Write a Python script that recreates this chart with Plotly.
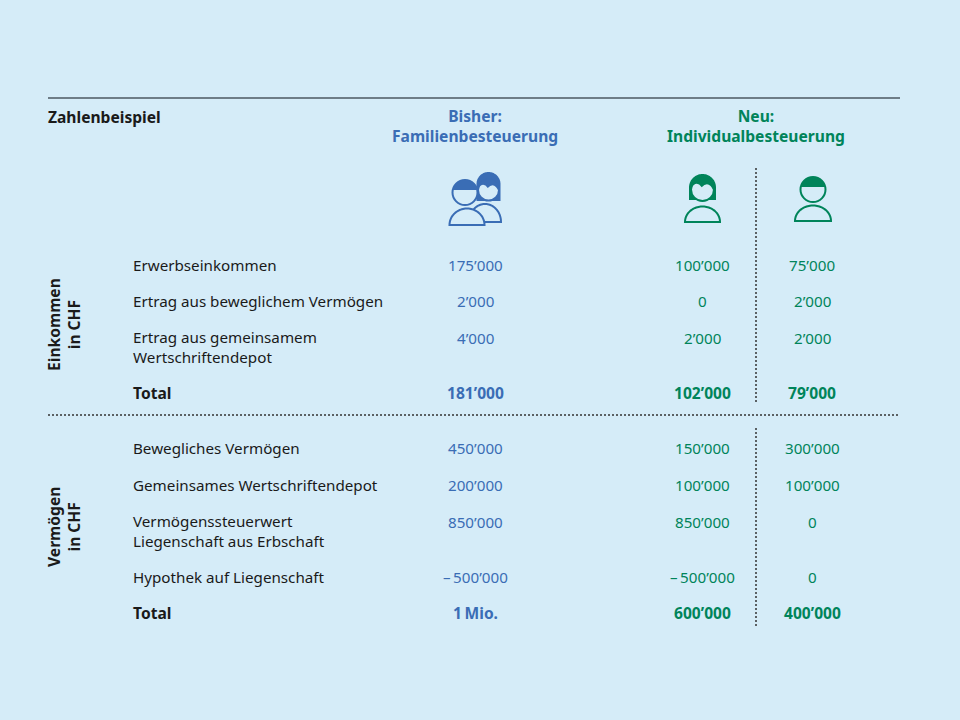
import numpy as np
import plotly.graph_objects as go

# ---- data ----
income_labels = ["Erwerbseinkommen", "Ertrag aus beweglichem Vermögen",
                 "Ertrag aus gemeinsamem<br>Wertschriftendepot", "Total"]
income_bisher = [175000, 2000, 4000, 181000]
income_neu_frau = [100000, 0, 2000, 102000]
income_neu_mann = [75000, 2000, 2000, 79000]

wealth_labels = ["Bewegliches Vermögen", "Gemeinsames Wertschriftendepot",
                 "Vermögenssteuerwert<br>Liegenschaft aus Erbschaft",
                 "Hypothek auf Liegenschaft", "Total"]
wealth_bisher = [450000, 200000, 850000, -500000, 1000000]
wealth_neu_frau = [150000, 100000, 850000, -500000, 600000]
wealth_neu_mann = [300000, 100000, 0, 0, 400000]

header_title = "Zahlenbeispiel"
column_titles = ["Bisher:<br>Familienbesteuerung", "Neu:<br>Individualbesteuerung"]
section_titles = ["Einkommen<br>in CHF", "Vermögen<br>in CHF"]

# ---- styles / layout ----
BG = "#d5ecf8"
BLUE = "#3a6db5"
GREEN = "#00845a"
INK = "#1a1a1a"
FONT = "Noto Sans"
FS = 15.2
FSB = 15.6

income_y = [265, 301, 338, 393]
wealth_y = [448, 485, 522, 577, 613]
label_x = 131
col_x = [475, 702, 812]
LINE_H = 18


def fmt(v):
    if v == 1_000_000:
        return "1\u2009Mio."
    s = f"{abs(v):,}".replace(",", "\u2019")
    return "\u2013\u2009" + s if v < 0 else s


def pts_path(pts, close=True):
    s = "M " + " L ".join(f"{x:.2f},{y:.2f}" for x, y in pts)
    return s + (" Z" if close else "")


def arc(cx, cy, rx, ry, a0, a1, n=48):
    t = np.linspace(a0, a1, n)
    return [(cx + rx * np.cos(a), cy - ry * np.sin(a)) for a in t]


shapes = []
annotations = []


def body(cx, yb, rx, ry, color):
    shapes.append(dict(type="path", path=pts_path(arc(cx, yb, rx, ry, 0, np.pi)),
                       fillcolor=BG, line=dict(color=color, width=2), layer="above"))


def head(cx, cy, r, color):
    shapes.append(dict(type="circle", x0=cx - r, x1=cx + r, y0=cy - r, y1=cy + r,
                       fillcolor=BG, line=dict(color=color, width=2), layer="above"))


def man_cap(cx, cy, r, frac, color):
    a0 = np.arcsin(frac)
    shapes.append(dict(type="path", path=pts_path(arc(cx, cy, r, r, a0, np.pi - a0)),
                       fillcolor=color, line=dict(width=0), layer="above"))


def woman_hair(cx, y_top, half_w, y_bottom, color):
    top = arc(cx, y_top + half_w, half_w, half_w, 0, np.pi)
    pts = top + [(cx - half_w, y_bottom), (cx + half_w, y_bottom)]
    shapes.append(dict(type="path", path=pts_path(pts),
                       fillcolor=color, line=dict(width=0), layer="above"))


def bangs(cx, cy, r, color):
    top = arc(cx, cy, r, r, np.radians(-10), np.radians(175))
    rx_, ry_ = top[0]
    p = pts_path(top, close=False)
    p += (f" Q {cx - 0.55 * r:.2f},{cy - 0.85 * r:.2f} {cx - 0.07 * r:.2f},{cy - 0.2 * r:.2f}"
          f" Q {cx + 0.55 * r:.2f},{cy - 0.85 * r:.2f} {rx_:.2f},{ry_:.2f} Z")
    shapes.append(dict(type="path", path=p, fillcolor=color, line=dict(width=0), layer="above"))


def person_man(cx, cy, r, body_cx, yb, rx, ry, color):
    body(body_cx, yb, rx, ry, color)
    head(cx, cy, r, color)
    man_cap(cx, cy, r, 0.2, color)


def person_woman(cx, cy, r, body_cx, yb, rx, ry, hair_top, hair_half, hair_bottom, color):
    body(body_cx, yb, rx, ry, color)
    woman_hair(cx, hair_top, hair_half, hair_bottom, color)
    head(cx, cy, r, color)
    bangs(cx, cy, r, color)


# icons: couple (blue), woman + man (green)
person_woman(488.5, 190, 10.5, 485, 222, 16, 18, 172, 12, 201, BLUE)
person_man(465, 192.5, 12.5, 467, 225, 17.5, 16.5, BLUE)
person_woman(702.5, 189.5, 11.5, 702.5, 222, 17.5, 15.5, 174, 13.5, 200, GREEN)
person_man(813, 189.5, 12.5, 813, 221, 18, 15.5, GREEN)

# rules
DOT = dict(color="#333333", width=1.5, dash="2px,2px")
shapes.append(dict(type="line", x0=48, x1=900, y0=98, y1=98,
                   line=dict(color="#4b5862", width=1.3)))
shapes.append(dict(type="line", x0=48, x1=900, y0=415, y1=415, line=DOT))
shapes.append(dict(type="line", x0=756, x1=756, y0=168, y1=402, line=DOT))
shapes.append(dict(type="line", x0=756, x1=756, y0=428, y1=626, line=DOT))

# header texts
annotations.append(dict(x=46, y=117, text=f"<b>{header_title}</b>", xanchor="left",
                        yanchor="middle", font=dict(size=FSB, color=INK)))
annotations.append(dict(x=475, y=126, text=f"<b>{column_titles[0]}</b>", xanchor="center",
                        yanchor="middle", font=dict(size=FSB, color=BLUE)))
annotations.append(dict(x=756, y=126, text=f"<b>{column_titles[1]}</b>", xanchor="center",
                        yanchor="middle", font=dict(size=FSB, color=GREEN)))

# section titles
annotations.append(dict(x=64, y=325, text=f"<b>{section_titles[0]}</b>", textangle=-90,
                        xanchor="center", yanchor="middle", font=dict(size=FSB, color=INK)))
annotations.append(dict(x=64, y=527, text=f"<b>{section_titles[1]}</b>", textangle=-90,
                        xanchor="center", yanchor="middle", font=dict(size=FSB, color=INK)))

# row labels
for labels, ys in ((income_labels, income_y), (wealth_labels, wealth_y)):
    for i, (lab, y) in enumerate(zip(labels, ys)):
        is_total = i == len(labels) - 1
        txt = f"<b>{lab}</b>" if is_total else lab
        extra = lab.count("<br>") * LINE_H / 2
        annotations.append(dict(x=label_x, y=y + extra, text=txt, xanchor="left",
                                yanchor="middle", align="left",
                                font=dict(size=FSB if is_total else FS, color=INK)))

# value columns
columns = [
    (income_bisher, wealth_bisher, BLUE),
    (income_neu_frau, wealth_neu_frau, GREEN),
    (income_neu_mann, wealth_neu_mann, GREEN),
]
for (inc, wea, color), x in zip(columns, col_x):
    for block, ys in ((inc, income_y), (wea, wealth_y)):
        for i, (v, y) in enumerate(zip(block, ys)):
            is_total = i == len(block) - 1
            txt = f"<b>{fmt(v)}</b>" if is_total else fmt(v)
            annotations.append(dict(x=x, y=y, text=txt, xanchor="center", yanchor="middle",
                                    font=dict(size=FSB if is_total else FS, color=color)))

for a in annotations:
    a.update(xref="x", yref="y", showarrow=False)

fig = go.Figure()
fig.update_layout(
    width=960, height=720,
    margin=dict(l=0, r=0, t=0, b=0),
    paper_bgcolor=BG, plot_bgcolor=BG,
    font=dict(family=FONT, size=FS, color=INK),
    xaxis=dict(range=[0, 960], visible=False, fixedrange=True),
    yaxis=dict(range=[720, 0], visible=False, fixedrange=True),
    showlegend=False,
    shapes=shapes,
    annotations=annotations,
)

fig.write_html("out.html", config={"displayModeBar": False},
               post_script="document.body.style.margin='0';")
